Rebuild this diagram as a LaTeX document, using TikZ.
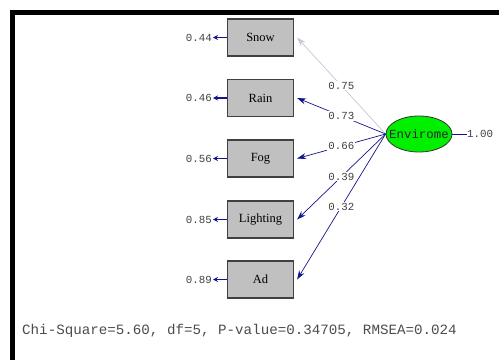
\documentclass[tikz,border=0pt]{standalone}
\usepackage{fontspec}
\setmainfont{Liberation Serif}
\newfontfamily\monofont{Liberation Mono}
\usetikzlibrary{arrows.meta,shapes.geometric}
\definecolor{pathnavy}{RGB}{20,20,140}
\definecolor{pathpale}{RGB}{200,198,214}
\definecolor{boxgray}{RGB}{192,192,192}
\definecolor{boxedge}{RGB}{64,64,64}
\definecolor{latentgreen}{RGB}{0,240,0}
\begin{document}
\begin{tikzpicture}[x=1pt,y=1pt,
  obsbox/.style={draw=boxedge,line width=1.2pt,fill=boxgray,minimum width=66pt,minimum height=37pt,inner sep=0pt,font=\fontsize{12.5}{14}\selectfont},
  latent/.style={ellipse,draw=black!80,line width=0.8pt,fill=latentgreen,minimum width=66pt,minimum height=36pt,inner sep=0pt},
  latentname/.style={inner sep=0pt,font=\monofont\fontsize{12.4}{14}\selectfont,text=black!85},
  errlabel/.style={font=\monofont\fontsize{10.8}{12}\selectfont,inner sep=0pt,text=black!75},
  errarrow/.style={draw=pathnavy,line width=1.6pt,-{Stealth[length=5pt,width=5pt]}},
  loading/.style={draw=pathnavy,line width=0.7pt,-{Stealth[length=9pt,width=6pt]}},
  coef/.style={font=\monofont\fontsize{10.8}{12}\selectfont,fill=white,inner sep=1pt,text=black!75}]
\useasboundingbox (0,0) rectangle (499,-360);
% frame
\draw[line width=4.5pt] (499,-12.5) -- (10,-12.5);
\draw[line width=4.5pt] (12.5,-10) -- (12.5,-360);
% observed variables
\node[obsbox] (snow) at (260.5,-37.5) {Snow};
\node[obsbox] (rain) at (260.5,-98) {Rain};
\node[obsbox] (fog) at (260.5,-158.5) {Fog};
\node[obsbox] (light) at (260.5,-219.5) {Lighting};
\node[obsbox] (ad) at (260.5,-279.5) {Ad};
% error variances
\node[errlabel,anchor=east] (esnow) at (212,-37.5) {0.44};
\node[errlabel,anchor=east] (erain) at (212,-98) {0.46};
\node[errlabel,anchor=east] (efog) at (212,-158.5) {0.56};
\node[errlabel,anchor=east] (elight) at (212,-219.5) {0.85};
\node[errlabel,anchor=east] (ead) at (212,-279.5) {0.89};
\foreach \b/\e in {snow/esnow,rain/erain,fog/efog,light/elight,ad/ead}
  \draw[errarrow] (\b.west) -- ([xshift=1pt]\e.east);
% latent variable
\node[latent] (env) at (419,-134) {};
\node[latentname] (envname) at (env.center) {Envirome};
\node[errlabel,anchor=west] (evar) at (467,-134) {1.00};
\draw[draw=pathnavy,line width=0.8pt] (env.east) -- (evar.west);
% loadings
\draw[loading,draw=pathpale] (env.west) -- node[coef] {0.75} ([xshift=3pt]snow.east);
\draw[loading] (env.west) -- node[coef] {0.73} ([xshift=3pt]rain.east);
\draw[loading] (env.west) -- node[coef] {0.66} ([xshift=3pt]fog.east);
\draw[loading] (env.west) -- node[coef] {0.39} ([xshift=3pt]light.east);
\draw[loading] (env.west) -- node[coef] {0.32} ([xshift=3pt]ad.east);
% fit statistics
\node[anchor=west,inner sep=0pt,font=\monofont\fontsize{14.2}{16}\selectfont,text=black!70] (fit) at (22,-331) {Chi-Square=5.60, df=5, P-value=0.34705, RMSEA=0.024};
\end{tikzpicture}
\end{document}
